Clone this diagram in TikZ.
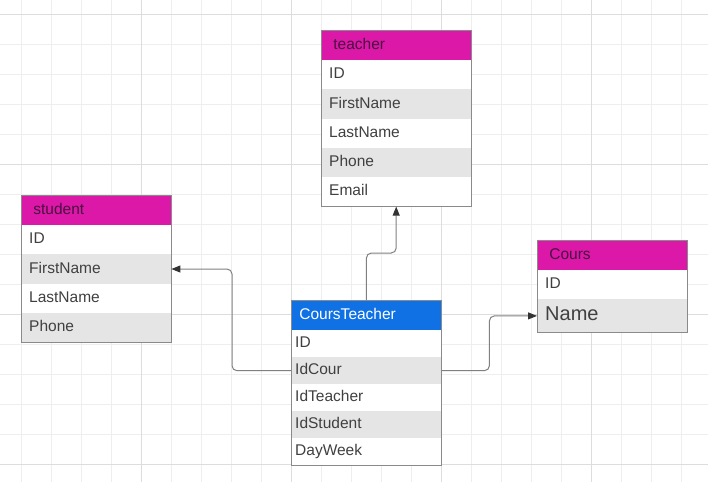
\documentclass[tikz,border=0pt]{standalone}
\usepackage{fontspec}
\setmainfont{Liberation Sans}
\usetikzlibrary{arrows.meta}
\definecolor{mag}{HTML}{DB18A8}
\definecolor{ctblue}{HTML}{1071E5}
\definecolor{rowgray}{HTML}{E5E5E5}
\definecolor{txt}{HTML}{404040}
\definecolor{htxt}{HTML}{4A1040}
\definecolor{bord}{HTML}{8A8A8A}
\definecolor{gridc}{HTML}{EEEEEE}
\definecolor{gridd}{HTML}{DDDDDD}
\definecolor{connc}{HTML}{808080}
\definecolor{arrowc}{HTML}{333333}
\begin{document}
\begin{tikzpicture}[x=1pt,y=-1pt,
  cell/.style={anchor=north west, minimum width=150pt, text width=134pt, inner xsep=8pt, inner ysep=0pt, align=left, font=\fontsize{15.5}{18}\selectfont, text=txt, text height=11pt, text depth=3pt},
  ctcell/.style={cell, text width=142pt, inner xsep=4pt, minimum height=27pt},
  tcell/.style={cell, minimum height=29.2pt},
  shade/.style={fill=rowgray},
  head/.style={cell, minimum height=30pt, fill=mag, text=htxt, text width=126pt, inner xsep=12pt, draw=bord, line width=0.8pt},
  cthead/.style={cell, minimum height=30pt, fill=ctblue, text=white, draw=bord, line width=0.8pt},
  frame/.style={draw=bord, line width=1pt},
  conn/.style={draw=connc, line width=1pt, rounded corners=5pt, -{Triangle[length=9pt,width=7pt,color=arrowc]}}
]
\useasboundingbox (0,0) rectangle (708,482);
\fill[white] (0,0) rectangle (708,482);
% grid
\foreach \x in {21,51,...,681} \draw[gridc, line width=0.8pt] (\x,0) -- (\x,482);
\foreach \y in {14,44,...,464} \draw[gridc, line width=0.8pt] (0,\y) -- (708,\y);
\foreach \x in {141,291,441,591} \draw[gridd, line width=0.8pt] (\x,0) -- (\x,482);
\foreach \y in {14,164,314,464} \draw[gridd, line width=0.8pt] (0,\y) -- (708,\y);

% teacher
\node[head] (th) at (321,30) {teacher};
\node[tcell, fill=white] (tid) at (321,60) {ID};
\node[tcell, shade] (tfirst) at (321,89.2) {FirstName};
\node[tcell, fill=white] (tlast) at (321,118.4) {LastName};
\node[tcell, shade] (tphone) at (321,147.6) {Phone};
\node[tcell, fill=white, minimum height=29.4pt] (temail) at (321,176.8) {Email};
\draw[frame] (th.north west) rectangle (temail.south east);

% student
\node[head] (sh) at (21,195) {student};
\node[tcell, fill=white] (sid) at (21,225) {ID};
\node[tcell, shade] (sfirst) at (21,254.2) {FirstName};
\node[tcell, fill=white] (slast) at (21,283.4) {LastName};
\node[tcell, shade] (sphone) at (21,312.6) {Phone};
\draw[frame] (sh.north west) rectangle (sphone.south east);

% Cours
\node[head] (ch) at (537,240) {Cours};
\node[tcell, fill=white] (cid) at (537,270) {ID};
\node[cell, shade, minimum height=33pt, font=\fontsize{20}{22}\selectfont, text height=14pt, text depth=4pt] (cname) at (537,299.2) {Name};
\draw[frame] (ch.north west) rectangle (cname.south east);

% CoursTeacher
\node[cthead] (cth) at (291,300) {CoursTeacher};
\node[ctcell, fill=white] (ctid) at (291,330) {ID};
\node[ctcell, shade] (ctcour) at (291,357) {IdCour};
\node[ctcell, fill=white] (ctteacher) at (291,384) {IdTeacher};
\node[ctcell, shade] (ctstudent) at (291,411) {IdStudent};
\node[ctcell, fill=white] (ctday) at (291,438) {DayWeek};
\draw[frame] (cth.north west) rectangle (ctday.south east);

% connectors
\draw[conn] (cth.north) -- ++(0,-47) -| (temail.south);
\draw[conn] (ctcour.west) -- ++(-59,0) |- (sfirst.east);
\draw[conn] (ctcour.east) -- ++(48,0) |- (cname.west);
\end{tikzpicture}
\end{document}
